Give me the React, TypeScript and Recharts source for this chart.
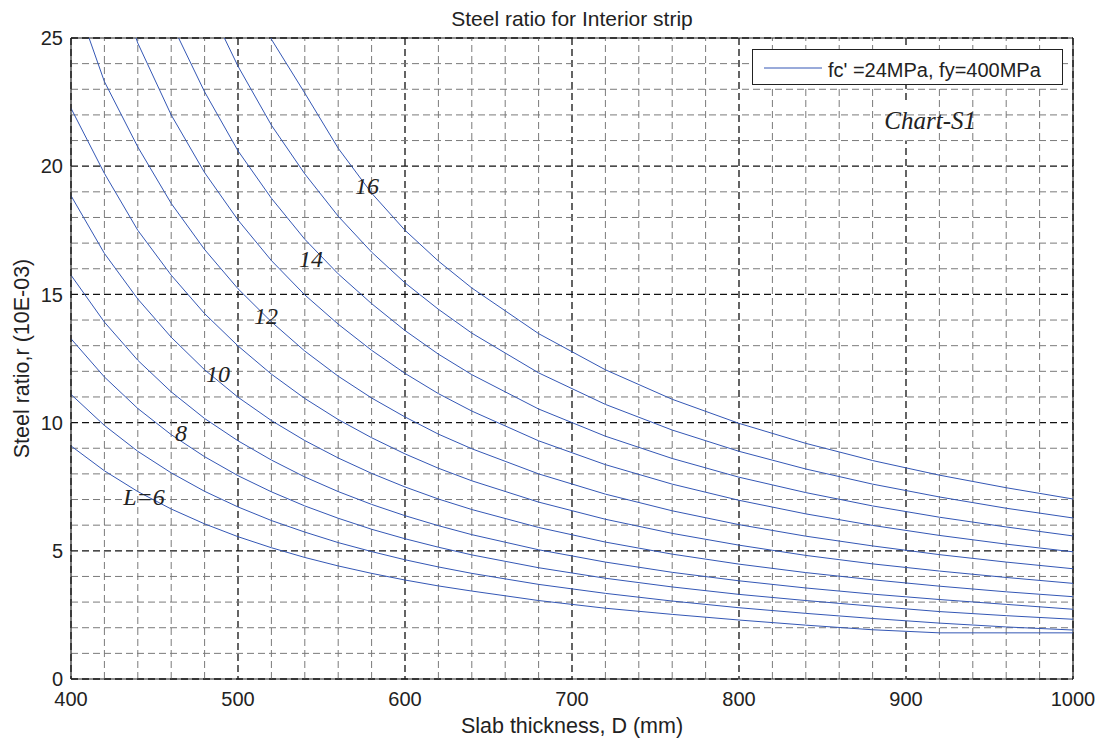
import React from 'react';
import {
  LineChart,
  Line,
  XAxis,
  YAxis,
  CartesianGrid,
  ReferenceLine,
  ReferenceArea,
  ReferenceDot,
  Legend,
} from 'recharts';

// Slab thickness D (mm)
const D = [400, 420, 440, 460, 480, 500, 520, 540, 560, 580, 600, 620, 640, 680, 720, 760, 800, 840, 880, 920, 960, 1000];

// Steel ratio (x 10^-3) for each span L (m)
const L6 = [9.09, 8.12, 7.31, 6.63, 6.05, 5.55, 5.12, 4.74, 4.41, 4.12, 3.86, 3.63, 3.43, 3.06, 2.76, 2.52, 2.30, 2.10, 1.92, 1.80, 1.80, 1.80];
const L7 = [11.10, 9.89, 8.88, 8.04, 7.32, 6.71, 6.18, 5.73, 5.32, 4.97, 4.65, 4.37, 4.12, 3.69, 3.34, 3.04, 2.78, 2.56, 2.36, 2.18, 2.03, 1.91];
const L8 = [13.27, 11.78, 10.55, 9.53, 8.67, 7.93, 7.30, 6.75, 6.27, 5.84, 5.47, 5.14, 4.84, 4.34, 3.93, 3.59, 3.30, 3.06, 2.84, 2.63, 2.47, 2.33];
const L9 = [15.75, 13.92, 12.43, 11.20, 10.16, 9.29, 8.54, 7.88, 7.31, 6.81, 6.37, 5.98, 5.63, 5.04, 4.56, 4.16, 3.83, 3.55, 3.31, 3.10, 2.91, 2.72];
const L10 = [18.85, 16.60, 14.82, 13.33, 12.06, 10.99, 10.08, 9.30, 8.62, 8.02, 7.49, 7.02, 6.61, 5.91, 5.34, 4.87, 4.48, 4.15, 3.87, 3.62, 3.40, 3.21];
const L11 = [22.26, 19.72, 17.50, 15.75, 14.25, 12.99, 11.89, 10.94, 10.12, 9.41, 8.78, 8.22, 7.73, 6.90, 6.23, 5.68, 5.22, 4.82, 4.49, 4.21, 3.96, 3.73];
const L12 = [27.0, 23.30, 20.75, 18.55, 16.75, 15.22, 13.93, 12.79, 11.81, 10.96, 10.22, 9.55, 8.98, 8.00, 7.21, 6.56, 6.02, 5.57, 5.19, 4.85, 4.56, 4.30];
const L13 = [34.0, 28.6, 24.8, 22.0, 19.75, 17.9, 16.32, 14.98, 13.84, 12.82, 11.92, 11.13, 10.45, 9.29, 8.36, 7.60, 6.97, 6.44, 5.99, 5.60, 5.26, 4.96];
const L14 = [null, 35.0, 29.3, 25.6, 22.9, 20.6, 18.75, 17.15, 15.8, 14.64, 13.59, 12.67, 11.87, 10.53, 9.47, 8.60, 7.87, 7.27, 6.75, 6.31, 5.93, 5.58];
const L15 = [null, null, 36.0, 30.3, 26.6, 23.9, 21.6, 19.7, 18.05, 16.65, 15.45, 14.42, 13.49, 11.94, 10.71, 9.71, 8.88, 8.19, 7.60, 7.10, 6.66, 6.28];
const L16 = [null, null, null, 38.0, 31.5, 27.6, 24.95, 22.85, 20.7, 18.95, 17.5, 16.3, 15.25, 13.47, 12.06, 10.91, 9.97, 9.19, 8.52, 7.95, 7.46, 7.02];

const SERIES: Record<string, (number | null)[]> = { L6, L7, L8, L9, L10, L11, L12, L13, L14, L15, L16 };
const SERIES_KEYS = Object.keys(SERIES);

const X_TICKS = [400, 500, 600, 700, 800, 900, 1000];
const Y_TICKS = [0, 5, 10, 15, 20, 25];
const X_MINOR = [420, 440, 460, 480, 520, 540, 560, 580, 620, 640, 660, 680, 720, 740, 760, 780, 820, 840, 860, 880, 920, 940, 960, 980];
const Y_MINOR = [1, 2, 3, 4, 6, 7, 8, 9, 11, 12, 13, 14, 16, 17, 18, 19, 21, 22, 23, 24];

const CURVE_LABELS = [
  { text: 'L=6', x: 443.7, y: 7.1 },
  { text: '8', x: 465.9, y: 9.6 },
  { text: '10', x: 488, y: 11.9 },
  { text: '12', x: 516.8, y: 14.16 },
  { text: '14', x: 543.7, y: 16.38 },
  { text: '16', x: 577.2, y: 19.23 },
];

const TITLE = 'Steel ratio for Interior strip';
const X_LABEL = 'Slab thickness, D (mm)';
const Y_LABEL = 'Steel ratio,r (10E-03)';
const LEGEND_TEXT = "fc' =24MPa, fy=400MPa";
const CHART_TAG = 'Chart-S1';

const tableData = D.map((d, i) => {
  const row: Record<string, number | null> = { D: d };
  SERIES_KEYS.forEach((k) => {
    row[k] = SERIES[k][i];
  });
  return row;
});

const FONT = '"Liberation Sans", Arial, Helvetica, sans-serif';
const SERIF = '"Liberation Serif", "Times New Roman", Times, serif';
const BLUE = '#3457b5';
const INK = '#222222';

const serifLabel = (text: string, size: number, anchor: 'middle' | 'start') => (p: any) => {
  const vb = p.viewBox || {};
  const x = (vb.x ?? 0) + (vb.width ?? 0) / 2;
  const y = (vb.y ?? 0) + (vb.height ?? 0) / 2;
  return (
    <text
      x={x}
      y={y}
      textAnchor={anchor}
      dominantBaseline="central"
      fontFamily={SERIF}
      fontStyle="italic"
      fontSize={size}
      fill={INK}
    >
      {text}
    </text>
  );
};

const xAxisLabel = (p: any) => {
  const vb = p.viewBox;
  return (
    <text x={vb.x + vb.width / 2} y={vb.y + vb.height - 9} textAnchor="middle" fontFamily={FONT} fontSize={21.5} fill={INK}>
      {X_LABEL}
    </text>
  );
};

const yAxisLabel = (p: any) => {
  const vb = p.viewBox;
  const cx = vb.x + 22;
  const cy = vb.y + vb.height / 2;
  return (
    <text
      x={cx}
      y={cy}
      transform={`rotate(-90, ${cx}, ${cy})`}
      textAnchor="middle"
      dominantBaseline="central"
      fontFamily={FONT}
      fontSize={21.5}
      fill={INK}
    >
      {Y_LABEL}
    </text>
  );
};

const renderLegend = () => (
  <div
    style={{
      boxSizing: 'border-box',
      width: 311,
      height: 36,
      border: `1px solid ${INK}`,
      background: '#fff',
      position: 'relative',
      fontFamily: FONT,
      fontSize: 20,
      color: INK,
    }}
  >
    <svg width={60} height={4} style={{ position: 'absolute', left: 11, top: 16 }}>
      <line x1={0} y1={2} x2={58} y2={2} stroke={BLUE} strokeWidth={1} />
    </svg>
    <span style={{ position: 'absolute', left: 75, top: 10, lineHeight: '20px', whiteSpace: 'nowrap' }}>{LEGEND_TEXT}</span>
  </div>
);

export default function App() {
  return (
    <div style={{ position: 'absolute', left: 0, top: 0, width: 1105, height: 742, background: '#fff' }}>
      <div
        style={{
          position: 'absolute',
          left: 71,
          width: 1002,
          top: 8,
          textAlign: 'center',
          fontFamily: FONT,
          fontSize: 21,
          lineHeight: '21px',
          color: INK,
          zIndex: 2,
        }}
      >
        {TITLE}
      </div>
      <LineChart width={1105} height={742} data={tableData} margin={{ top: 38, right: 32, bottom: 0, left: 0 }}>
        <XAxis
          dataKey="D"
          type="number"
          domain={[400, 1000]}
          ticks={X_TICKS}
          allowDataOverflow
          height={63}
          tickLine={false}
          tickSize={6}
          tickMargin={7}
          axisLine={{ stroke: INK, strokeWidth: 1.2 }}
          tick={{ fill: INK, fontSize: 20, fontFamily: FONT }}
          interval={0}
          label={xAxisLabel}
        />
        <YAxis
          type="number"
          domain={[0, 25]}
          ticks={Y_TICKS}
          allowDataOverflow
          width={71}
          tickLine={false}
          tickSize={6}
          tickMargin={2}
          axisLine={{ stroke: INK, strokeWidth: 1.2 }}
          tick={{ fill: INK, fontSize: 20, fontFamily: FONT }}
          interval={0}
          label={yAxisLabel}
        />
        {X_MINOR.map((v) => (
          <ReferenceLine key={`xm${v}`} x={v} stroke="#7a7a7a" strokeWidth={1} strokeDasharray="7 4" />
        ))}
        {Y_MINOR.map((v) => (
          <ReferenceLine key={`ym${v}`} y={v} stroke="#7a7a7a" strokeWidth={1} strokeDasharray="7 4" />
        ))}
        <CartesianGrid stroke="#111" strokeWidth={1.3} strokeDasharray="7 4" />
        <ReferenceLine y={25} stroke={INK} strokeWidth={1} />
        <ReferenceLine x={1000} stroke={INK} strokeWidth={1.2} />
        <ReferenceArea x1={882} x2={968} y1={21.0} y2={22.5} fill="#fff" fillOpacity={1} stroke="none" />
        {SERIES_KEYS.map((k) => (
          <Line
            key={k}
            dataKey={k}
            type="linear"
            stroke={BLUE}
            strokeWidth={1}
            dot={false}
            activeDot={false}
            isAnimationActive={false}
            connectNulls={false}
          />
        ))}
        {CURVE_LABELS.map((c) => (
          <ReferenceDot
            key={c.text}
            x={c.x}
            y={c.y}
            r={1}
            fill="none"
            stroke="none"
            label={serifLabel(c.text, 24, 'middle')}
          />
        ))}
        <ReferenceDot x={887} y={21.8} r={1} fill="none" stroke="none" label={serifLabel(CHART_TAG, 25, 'start')} />
        <Legend
          layout="horizontal"
          align="center"
          verticalAlign="middle"
          content={renderLegend}
          wrapperStyle={{ left: 752, top: 49, width: 311, height: 36 }}
        />
      </LineChart>
    </div>
  );
}
